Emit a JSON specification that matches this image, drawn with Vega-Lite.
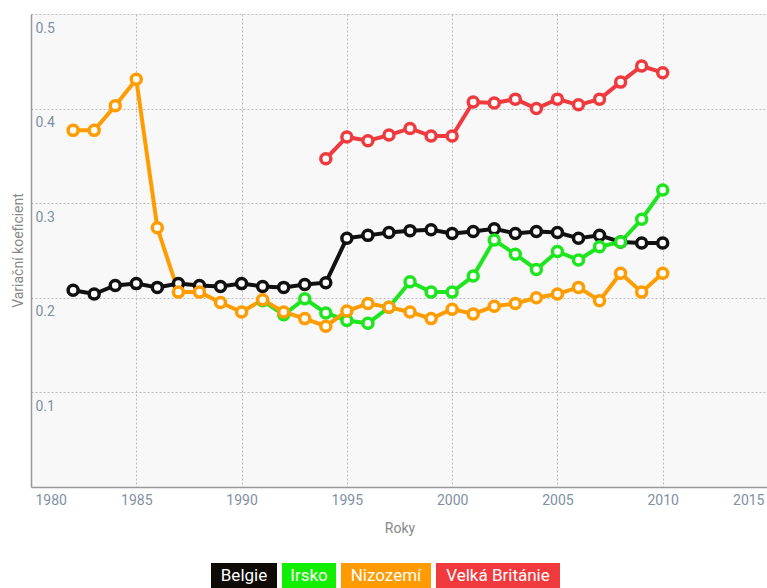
{
  "$schema": "https://vega.github.io/schema/vega-lite/v6.json",
  "padding": {"left": 11, "top": 14, "right": 0, "bottom": 0},
  "background": "white",
  "spacing": 28,
  "center": true,
  "config": {
    "font": "Roboto",
    "view": {"stroke": null}
  },
  "datasets": {
    "series": [
      {"country": "Belgie", "year": 1982, "cv": 0.208},
      {"country": "Belgie", "year": 1983, "cv": 0.204},
      {"country": "Belgie", "year": 1984, "cv": 0.213},
      {"country": "Belgie", "year": 1985, "cv": 0.215},
      {"country": "Belgie", "year": 1986, "cv": 0.211},
      {"country": "Belgie", "year": 1987, "cv": 0.215},
      {"country": "Belgie", "year": 1988, "cv": 0.213},
      {"country": "Belgie", "year": 1989, "cv": 0.212},
      {"country": "Belgie", "year": 1990, "cv": 0.215},
      {"country": "Belgie", "year": 1991, "cv": 0.212},
      {"country": "Belgie", "year": 1992, "cv": 0.211},
      {"country": "Belgie", "year": 1993, "cv": 0.214},
      {"country": "Belgie", "year": 1994, "cv": 0.216},
      {"country": "Belgie", "year": 1995, "cv": 0.263},
      {"country": "Belgie", "year": 1996, "cv": 0.266},
      {"country": "Belgie", "year": 1997, "cv": 0.269},
      {"country": "Belgie", "year": 1998, "cv": 0.271},
      {"country": "Belgie", "year": 1999, "cv": 0.272},
      {"country": "Belgie", "year": 2000, "cv": 0.268},
      {"country": "Belgie", "year": 2001, "cv": 0.270},
      {"country": "Belgie", "year": 2002, "cv": 0.273},
      {"country": "Belgie", "year": 2003, "cv": 0.268},
      {"country": "Belgie", "year": 2004, "cv": 0.270},
      {"country": "Belgie", "year": 2005, "cv": 0.269},
      {"country": "Belgie", "year": 2006, "cv": 0.263},
      {"country": "Belgie", "year": 2007, "cv": 0.266},
      {"country": "Belgie", "year": 2008, "cv": 0.259},
      {"country": "Belgie", "year": 2009, "cv": 0.258},
      {"country": "Belgie", "year": 2010, "cv": 0.258},
      {"country": "Irsko", "year": 1991, "cv": 0.197},
      {"country": "Irsko", "year": 1992, "cv": 0.182},
      {"country": "Irsko", "year": 1993, "cv": 0.199},
      {"country": "Irsko", "year": 1994, "cv": 0.184},
      {"country": "Irsko", "year": 1995, "cv": 0.176},
      {"country": "Irsko", "year": 1996, "cv": 0.173},
      {"country": "Irsko", "year": 1997, "cv": 0.190},
      {"country": "Irsko", "year": 1998, "cv": 0.217},
      {"country": "Irsko", "year": 1999, "cv": 0.206},
      {"country": "Irsko", "year": 2000, "cv": 0.206},
      {"country": "Irsko", "year": 2001, "cv": 0.223},
      {"country": "Irsko", "year": 2002, "cv": 0.261},
      {"country": "Irsko", "year": 2003, "cv": 0.246},
      {"country": "Irsko", "year": 2004, "cv": 0.230},
      {"country": "Irsko", "year": 2005, "cv": 0.249},
      {"country": "Irsko", "year": 2006, "cv": 0.240},
      {"country": "Irsko", "year": 2007, "cv": 0.254},
      {"country": "Irsko", "year": 2008, "cv": 0.259},
      {"country": "Irsko", "year": 2009, "cv": 0.283},
      {"country": "Irsko", "year": 2010, "cv": 0.314},
      {"country": "Nizozemí", "year": 1982, "cv": 0.377},
      {"country": "Nizozemí", "year": 1983, "cv": 0.377},
      {"country": "Nizozemí", "year": 1984, "cv": 0.403},
      {"country": "Nizozemí", "year": 1985, "cv": 0.431},
      {"country": "Nizozemí", "year": 1986, "cv": 0.274},
      {"country": "Nizozemí", "year": 1987, "cv": 0.206},
      {"country": "Nizozemí", "year": 1988, "cv": 0.206},
      {"country": "Nizozemí", "year": 1989, "cv": 0.195},
      {"country": "Nizozemí", "year": 1990, "cv": 0.185},
      {"country": "Nizozemí", "year": 1991, "cv": 0.198},
      {"country": "Nizozemí", "year": 1992, "cv": 0.185},
      {"country": "Nizozemí", "year": 1993, "cv": 0.178},
      {"country": "Nizozemí", "year": 1994, "cv": 0.170},
      {"country": "Nizozemí", "year": 1995, "cv": 0.186},
      {"country": "Nizozemí", "year": 1996, "cv": 0.194},
      {"country": "Nizozemí", "year": 1997, "cv": 0.190},
      {"country": "Nizozemí", "year": 1998, "cv": 0.185},
      {"country": "Nizozemí", "year": 1999, "cv": 0.178},
      {"country": "Nizozemí", "year": 2000, "cv": 0.188},
      {"country": "Nizozemí", "year": 2001, "cv": 0.183},
      {"country": "Nizozemí", "year": 2002, "cv": 0.191},
      {"country": "Nizozemí", "year": 2003, "cv": 0.194},
      {"country": "Nizozemí", "year": 2004, "cv": 0.200},
      {"country": "Nizozemí", "year": 2005, "cv": 0.204},
      {"country": "Nizozemí", "year": 2006, "cv": 0.211},
      {"country": "Nizozemí", "year": 2007, "cv": 0.197},
      {"country": "Nizozemí", "year": 2008, "cv": 0.226},
      {"country": "Nizozemí", "year": 2009, "cv": 0.206},
      {"country": "Nizozemí", "year": 2010, "cv": 0.226},
      {"country": "Velká Británie", "year": 1994, "cv": 0.347},
      {"country": "Velká Británie", "year": 1995, "cv": 0.370},
      {"country": "Velká Británie", "year": 1996, "cv": 0.366},
      {"country": "Velká Británie", "year": 1997, "cv": 0.372},
      {"country": "Velká Británie", "year": 1998, "cv": 0.379},
      {"country": "Velká Británie", "year": 1999, "cv": 0.371},
      {"country": "Velká Británie", "year": 2000, "cv": 0.371},
      {"country": "Velká Británie", "year": 2001, "cv": 0.407},
      {"country": "Velká Británie", "year": 2002, "cv": 0.406},
      {"country": "Velká Británie", "year": 2003, "cv": 0.410},
      {"country": "Velká Británie", "year": 2004, "cv": 0.400},
      {"country": "Velká Británie", "year": 2005, "cv": 0.410},
      {"country": "Velká Británie", "year": 2006, "cv": 0.404},
      {"country": "Velká Británie", "year": 2007, "cv": 0.410},
      {"country": "Velká Británie", "year": 2008, "cv": 0.428},
      {"country": "Velká Británie", "year": 2009, "cv": 0.445},
      {"country": "Velká Británie", "year": 2010, "cv": 0.438}
    ]
  },
  "vconcat": [
    {
      "width": 737,
      "height": 473,
      "view": {"fill": "#f8f8f8", "stroke": null},
      "data": {"name": "series"},
      "mark": {
        "type": "line",
        "strokeWidth": 4,
        "point": {"filled": false, "fill": "white", "size": 100, "strokeWidth": 3.5}
      },
      "encoding": {
        "x": {
          "field": "year",
          "type": "quantitative",
          "scale": {"domain": [1980, 2015], "nice": false, "zero": false},
          "axis": {
            "title": "Roky",
            "values": [1980, 1985, 1990, 1995, 2000, 2005, 2010, 2015],
            "format": "d",
            "labelFlush": true,
            "labelFlushOffset": -4,
            "labelFontSize": 14,
            "labelColor": "#8090a4",
            "labelPadding": 6,
            "ticks": false,
            "domainColor": "#999999",
            "domainWidth": 1.5,
            "gridColor": "#bbbbbb",
            "gridDash": [2, 2],
            "gridWidth": 1,
            "titleColor": "#888888",
            "titleFontSize": 14,
            "titleFontWeight": "normal",
            "titlePadding": 14
          }
        },
        "y": {
          "field": "cv",
          "type": "quantitative",
          "scale": {"domain": [0, 0.5], "nice": false},
          "axis": {
            "title": "Variační koeficient",
            "values": [0.1, 0.2, 0.3, 0.4, 0.5],
            "format": ".1f",
            "labelAlign": "left",
            "labelBaseline": "top",
            "labelPadding": -4,
            "labelOffset": 7,
            "tickSize": 0,
            "ticks": false,
            "labelFontSize": 14,
            "labelColor": "#8090a4",
            "domainColor": "#999999",
            "domainWidth": 1.5,
            "gridColor": "#bbbbbb",
            "gridDash": [2, 2],
            "gridWidth": 1,
            "titleColor": "#888888",
            "titleFontSize": 14,
            "titleFontWeight": "normal",
            "titleX": -13,
            "titleY": 236,
            "titleBaseline": "middle"
          }
        },
        "color": {
          "field": "country",
          "type": "nominal",
          "scale": {
            "domain": ["Belgie", "Irsko", "Nizozemí", "Velká Británie"],
            "range": ["#111111", "#1ee61e", "#ff9c00", "#ef3b3f"]
          },
          "legend": null
        }
      }
    },
    {
      "spacing": 5,
      "hconcat": [
        {
          "width": 66,
          "height": 26,
          "data": {"values": [{"country": "Belgie"}]},
          "layer": [
            {"mark": {"type": "rect"}, "encoding": {"fill": {"field": "country", "type": "nominal", "scale": {"domain": ["Belgie", "Irsko", "Nizozemí", "Velká Británie"], "range": ["#0e0a05", "#12ee00", "#ff9a00", "#f03a3e"]}, "legend": null}}},
            {"mark": {"type": "text", "fill": "white", "fontSize": 17, "baseline": "middle"}, "encoding": {"text": {"field": "country"}}}
          ]
        },
        {
          "width": 54,
          "height": 26,
          "data": {"values": [{"country": "Irsko"}]},
          "layer": [
            {"mark": {"type": "rect"}, "encoding": {"fill": {"field": "country", "type": "nominal", "scale": {"domain": ["Belgie", "Irsko", "Nizozemí", "Velká Británie"], "range": ["#0e0a05", "#12ee00", "#ff9a00", "#f03a3e"]}, "legend": null}}},
            {"mark": {"type": "text", "fill": "white", "fontSize": 17, "baseline": "middle"}, "encoding": {"text": {"field": "country"}}}
          ]
        },
        {
          "width": 90,
          "height": 26,
          "data": {"values": [{"country": "Nizozemí"}]},
          "layer": [
            {"mark": {"type": "rect"}, "encoding": {"fill": {"field": "country", "type": "nominal", "scale": {"domain": ["Belgie", "Irsko", "Nizozemí", "Velká Británie"], "range": ["#0e0a05", "#12ee00", "#ff9a00", "#f03a3e"]}, "legend": null}}},
            {"mark": {"type": "text", "fill": "white", "fontSize": 17, "baseline": "middle"}, "encoding": {"text": {"field": "country"}}}
          ]
        },
        {
          "width": 124,
          "height": 26,
          "data": {"values": [{"country": "Velká Británie"}]},
          "layer": [
            {"mark": {"type": "rect"}, "encoding": {"fill": {"field": "country", "type": "nominal", "scale": {"domain": ["Belgie", "Irsko", "Nizozemí", "Velká Británie"], "range": ["#0e0a05", "#12ee00", "#ff9a00", "#f03a3e"]}, "legend": null}}},
            {"mark": {"type": "text", "fill": "white", "fontSize": 17, "baseline": "middle"}, "encoding": {"text": {"field": "country"}}}
          ]
        },
        {
          "width": 23,
          "height": 26,
          "data": {"values": [{"country": ""}]},
          "mark": {"type": "text"},
          "encoding": {"text": {"field": "country"}}
        }
      ]
    }
  ]
}
